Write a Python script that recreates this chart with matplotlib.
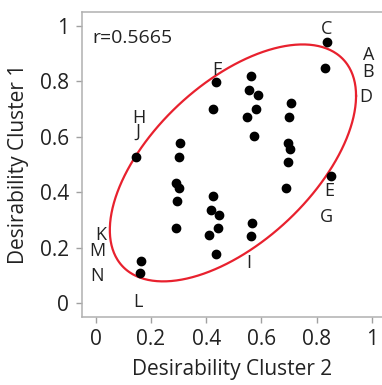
#!/usr/bin/env python3
"""Scatter of desirability clusters with a correlation ellipse."""

import numpy as np
import matplotlib
matplotlib.use("Agg")
import matplotlib.pyplot as plt

plt.rcParams["font.family"] = ["Open Sans", "DejaVu Sans"]

# points (cluster 2, cluster 1)
cluster2 = [0.146, 0.305, 0.301, 0.291, 0.301, 0.296, 0.289, 0.423, 0.417,
            0.448, 0.442, 0.409, 0.435, 0.165, 0.161, 0.567, 0.563, 0.435,
            0.426, 0.561, 0.555, 0.587, 0.582, 0.549, 0.574, 0.708, 0.701,
            0.696, 0.704, 0.698, 0.691, 0.831, 0.837, 0.853]
cluster1 = [0.528, 0.577, 0.528, 0.435, 0.414, 0.369, 0.272, 0.385, 0.336,
            0.318, 0.271, 0.245, 0.179, 0.151, 0.108, 0.290, 0.244, 0.797,
            0.700, 0.819, 0.769, 0.751, 0.700, 0.672, 0.604, 0.721, 0.671,
            0.579, 0.555, 0.508, 0.414, 0.848, 0.942, 0.460]

# letter labels and where they sit
label_text = ["A", "B", "C", "D", "E", "F", "G", "H", "I", "J", "K", "L", "M", "N"]
label_x = [0.988, 0.985, 0.837, 0.978, 0.846, 0.438, 0.837, 0.158, 0.555,
           0.151, 0.018, 0.154, 0.006, 0.006]
label_y = [0.895, 0.835, 0.987, 0.742, 0.406, 0.841, 0.310, 0.667, 0.144,
           0.618, 0.246, 0.006, 0.190, 0.098]

# ellipse: centre, half-extents along x and y, correlation
ell_cx, ell_cy = 0.497, 0.506
ell_sx, ell_sy = 0.446, 0.427
r_value = 0.5665

x_ticks = [0, 0.2, 0.4, 0.6, 0.8, 1]
x_ticklabels = ["0", "0.2", "0.4", "0.6", "0.8", "1"]
y_ticks = [0, 0.2, 0.4, 0.6, 0.8, 1]
y_ticklabels = ["0", "0.2", "0.4", "0.6", "0.8", "1"]


def main():
    fig = plt.figure(figsize=(3.82, 3.85), dpi=100)
    ax = fig.add_axes([0.214, 0.1774, 0.786, 0.7922])

    t = np.linspace(0, 2 * np.pi, 400)
    ex = ell_cx + ell_sx * np.cos(t)
    ey = ell_cy + ell_sy * (r_value * np.cos(t) + np.sqrt(1 - r_value ** 2) * np.sin(t))
    ax.plot(ex, ey, color="#e8212e", lw=1.6, zorder=2)

    ax.plot(cluster2, cluster1, "o", color="black", ms=6, zorder=3)

    for s, x, y in zip(label_text, label_x, label_y):
        ax.text(x, y, s, fontsize=13, ha="center", va="center", color="#222222")

    ax.text(-0.011, 0.957, f"r={r_value}", fontsize=14, ha="left", va="center",
            color="#222222")

    ax.set_xlim(-0.0507, 1.037)
    ax.set_ylim(-0.0483, 1.051)
    ax.set_xticks(x_ticks, x_ticklabels)
    ax.set_yticks(y_ticks, y_ticklabels)
    ax.tick_params(labelsize=15, length=4, width=1, color="#a0a0a0",
                   labelcolor="#222222", pad=5)
    for name in ("left", "bottom", "top"):
        ax.spines[name].set_color("#b0b0b0")
        ax.spines[name].set_linewidth(1.1)
    ax.spines["right"].set_visible(False)

    ax.set_xlabel("Desirability Cluster 2", fontsize=15, color="#222222", labelpad=6)
    ax.set_ylabel("Desirability Cluster 1", fontsize=15, color="#222222", labelpad=8)

    fig.savefig("out.png", dpi=100)


if __name__ == "__main__":
    main()
